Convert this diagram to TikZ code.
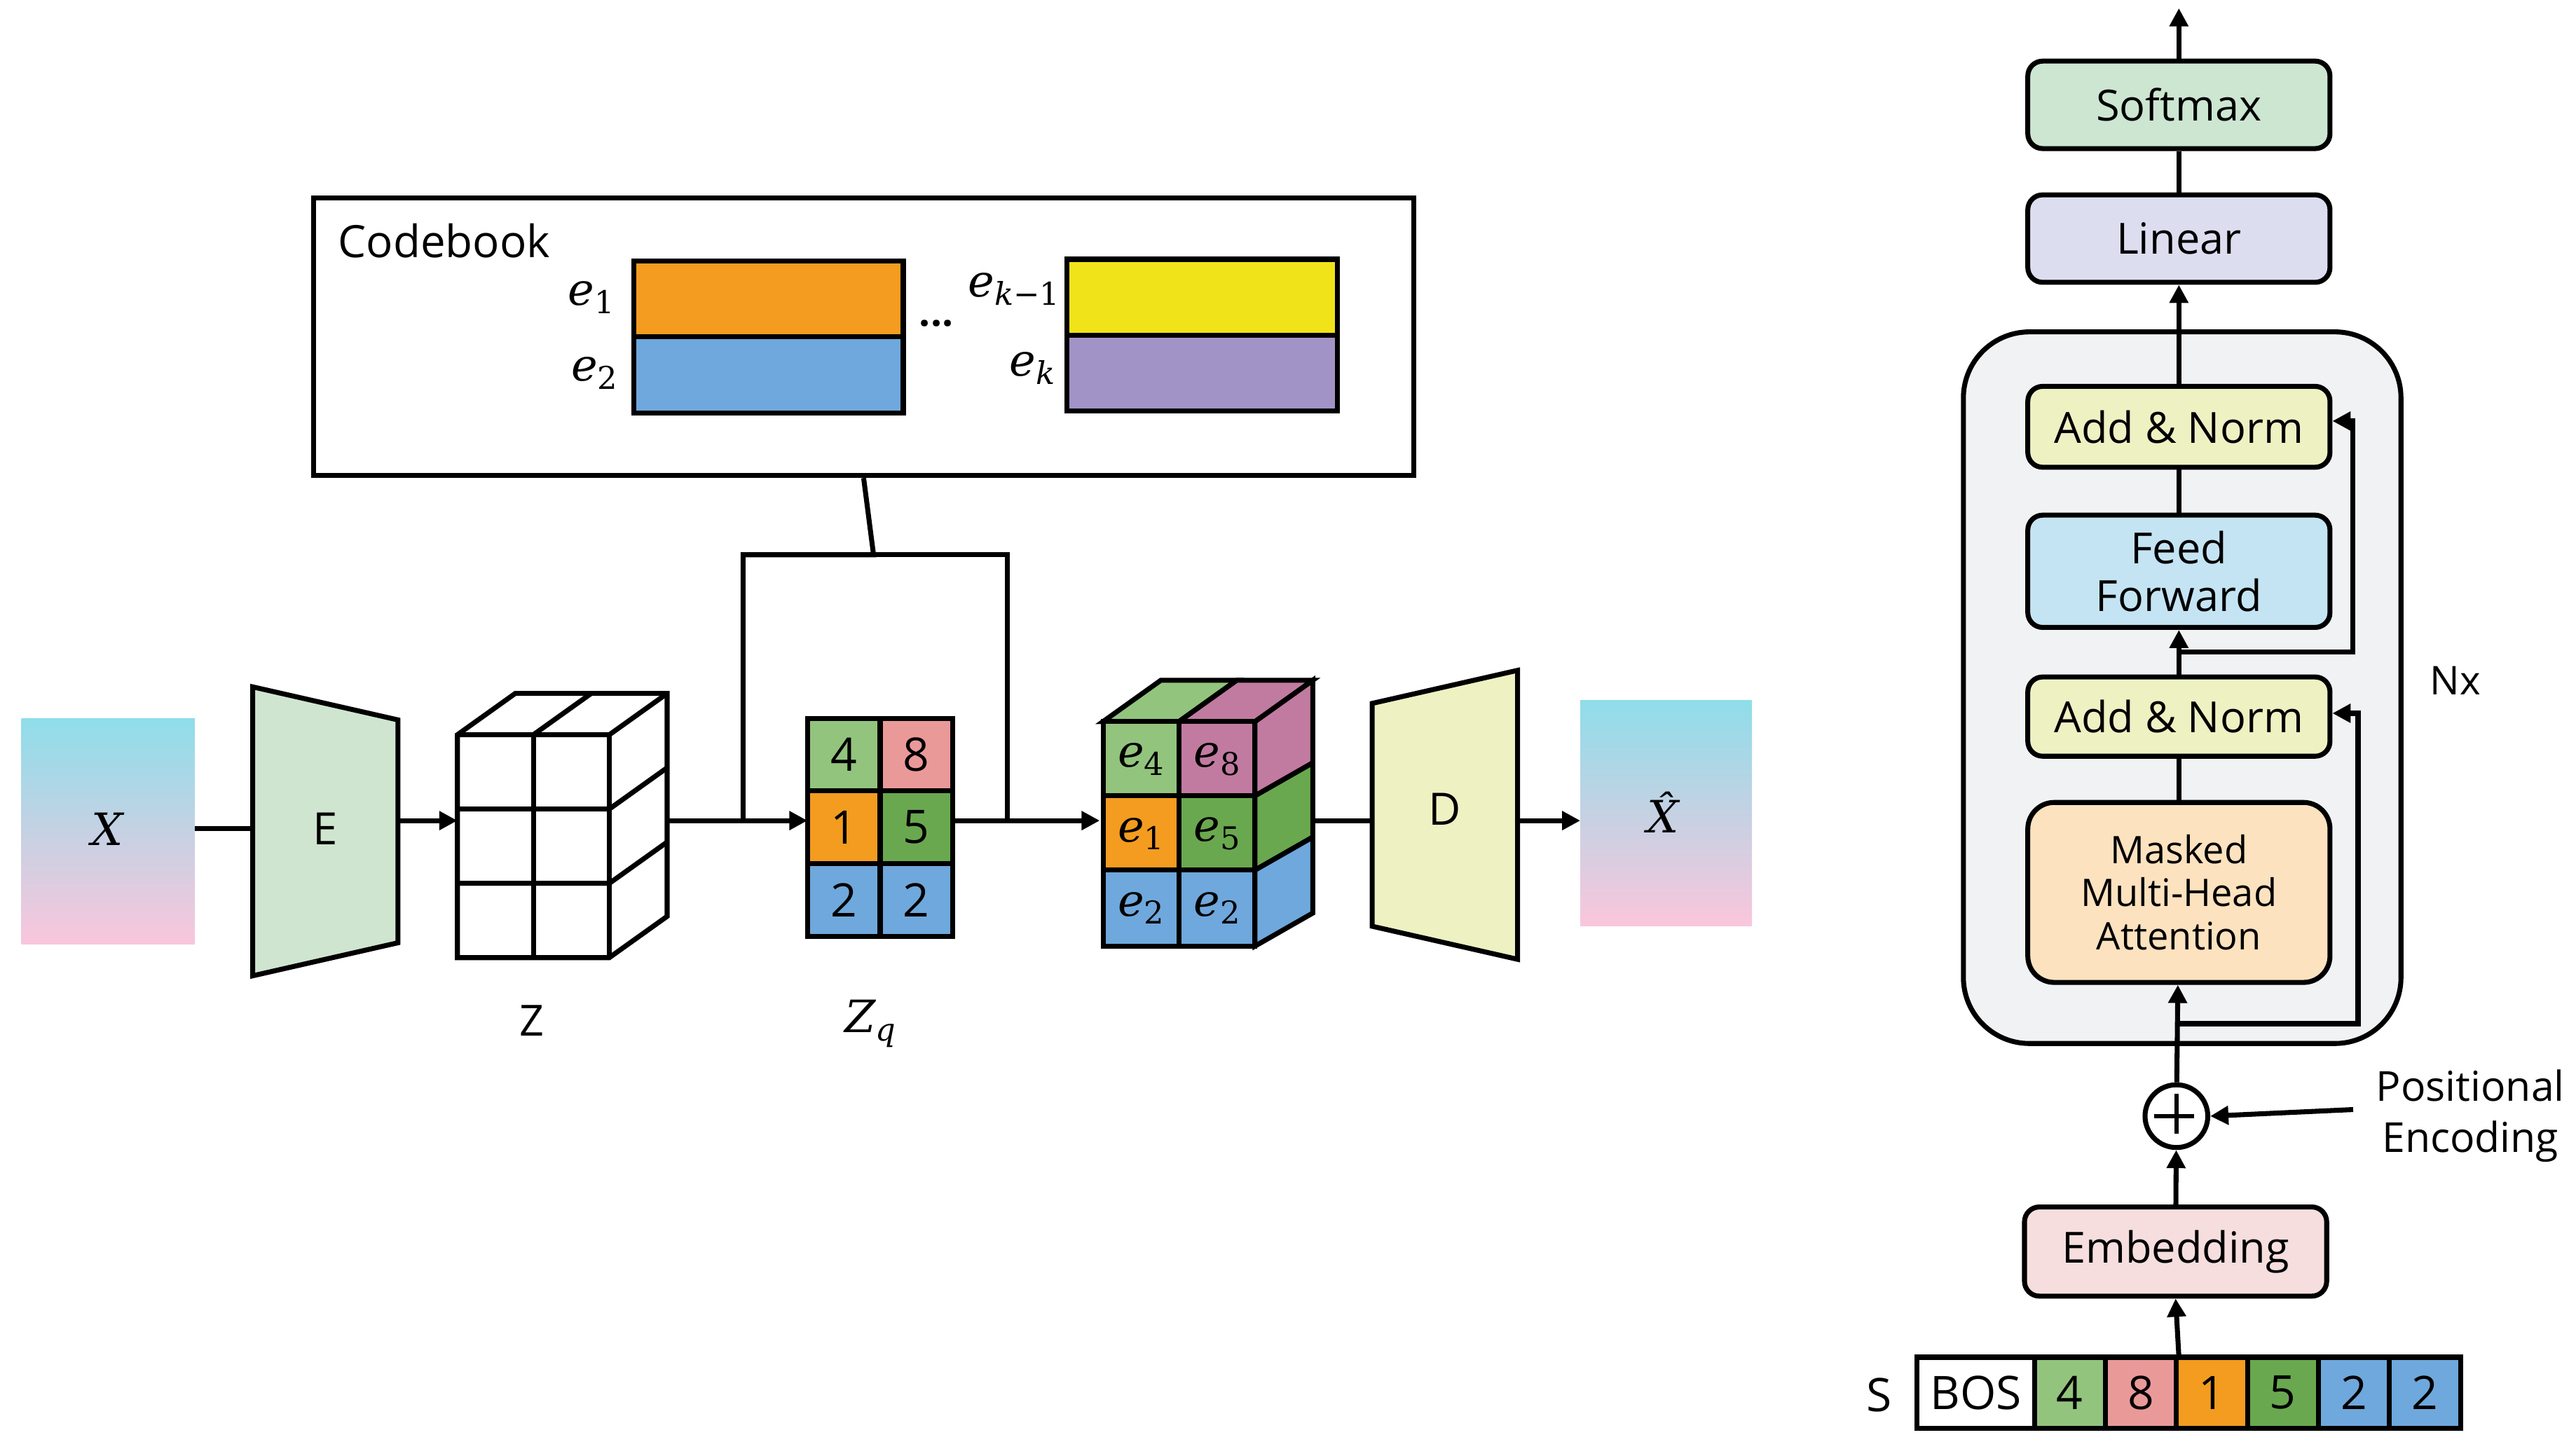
\documentclass[tikz,border=0pt]{standalone}
\usepackage{fontspec}
\setmainfont{Open Sans}
\newfontfamily\mf{DejaVu Serif}
\newcommand\ee[1]{{\mf\itshape e}\raisebox{-0.35ex}{\fontsize{19}{19}\selectfont\mf #1}}
\usetikzlibrary{arrows.meta,positioning,calc}
\definecolor{cg1}{HTML}{93C47D}\definecolor{cg2}{HTML}{6AA84F}
\definecolor{cpk}{HTML}{EA9999}\definecolor{cor}{HTML}{F39C1F}
\definecolor{cbl}{HTML}{6FA8DC}\definecolor{cmg}{HTML}{C27BA0}
\definecolor{cyl}{HTML}{F0E31A}\definecolor{cpu}{HTML}{A293C6}
\definecolor{gtop}{HTML}{8FDDEA}\definecolor{gmid}{HTML}{E8D8E8}\definecolor{gbot}{HTML}{FAC6DC}
\definecolor{cenc}{HTML}{CFE5CF}\definecolor{cdec}{HTML}{EEF1C2}
\definecolor{csoft}{HTML}{CCE6D2}\definecolor{clin}{HTML}{DCDEF0}
\definecolor{cff}{HTML}{C4E4F3}\definecolor{cmha}{HTML}{FDE2BF}
\definecolor{cemb}{HTML}{F6DEDE}\definecolor{cout}{HTML}{F1F2F4}
\begin{document}
\begin{tikzpicture}[x=1pt,y=-1pt,line width=3pt,line join=miter,
  arr/.style={-{Triangle[length=11pt,width=11pt]}},
  blk/.style={draw,rounded corners=9pt,minimum width=183pt,font=\fontsize{26}{29}\selectfont,align=center,inner sep=0pt},
  cell/.style={draw,minimum width=44pt,minimum height=44pt,inner sep=0pt,font=\fontsize{28}{28}\selectfont},
  tok/.style={draw,minimum width=43pt,minimum height=43pt,inner sep=0pt,font=\fontsize{28}{28}\selectfont},
  ml/.style={font=\fontsize{27}{27}\selectfont}]
\useasboundingbox (0,0) rectangle (1560,873);
% X input
\shade[top color=gtop, middle color=gmid, bottom color=gbot] (13,435) rectangle (118,572);
\node[ml] (X) at (65,502) {{\mf\itshape X}};
\coordinate (Xr) at (118,502);
% Encoder
\draw[fill=cenc] (153,416) -- (241,436) -- (241,571) -- (153,591) -- cycle;
\node[ml] (E) at (197,502) {E};
\coordinate (El) at (153,502); \coordinate (Er) at (241,497);
\draw (Xr) -- (El);
% Z cube
\draw[fill=white] (277,445) -- (312,420) -- (404,420) -- (404,555) -- (369,580) -- (277,580) -- cycle;
\draw (277,445) -- (369,445) -- (404,420);
\draw (369,445) -- (369,580);
\draw (323,445) -- (323,580);
\draw (277,490) -- (369,490) -- (404,465);
\draw (277,535) -- (369,535) -- (404,510);
\draw (323,445) -- (358,420);
\coordinate (Zl) at (277,497); \coordinate (Zr) at (404,497);
\draw[arr] (Er) -- (Zl);
\node[font=\fontsize{26}{26}\selectfont] (Zlab) at (322,618) {Z};
% Zq grid
\node[cell,fill=cg1] (q4) at (511,457) {4};
\node[cell,fill=cpk] (q8) at (555,457) {8};
\node[cell,fill=cor] (q1) at (511,501) {1};
\node[cell,fill=cg2] (q5) at (555,501) {5};
\node[cell,fill=cbl] (q2a) at (511,545) {2};
\node[cell,fill=cbl] (q2b) at (555,545) {2};
\node[ml] (Zq) at (527,620) {{\mf\itshape Z}\raisebox{-0.35ex}{\fontsize{19}{19}\selectfont\mf\itshape q}};
\coordinate (Qi) at (489,497); \coordinate (Qo) at (577,497);
\draw[arr] (Zr) -- (Qi);
% second cube
\draw[fill=cmg] (760,437) -- (795,412) -- (795,462) -- (760,482) -- cycle;
\draw[fill=cg2] (760,482) -- (795,462) -- (795,507) -- (760,527) -- cycle;
\draw[fill=cbl] (760,527) -- (795,507) -- (795,553) -- (760,573) -- cycle;
\draw[fill=cg1] (668,437) -- (703,412) -- (749,412) -- (714,437) -- cycle;
\draw[fill=cmg] (714,437) -- (749,412) -- (795,412) -- (760,437) -- cycle;
\node[draw,fill=cg1,minimum size=46pt,inner sep=0pt,ml] (c4) at (691,460) {\ee{4}};
\node[draw,fill=cmg,minimum size=46pt,inner sep=0pt,ml] (c8) at (737,460) {\ee{8}};
\node[draw,fill=cor,minimum size=46pt,inner sep=0pt,ml] (c1) at (691,505) {\ee{1}};
\node[draw,fill=cg2,minimum size=46pt,inner sep=0pt,ml] (c5) at (737,505) {\ee{5}};
\node[draw,fill=cbl,minimum size=46pt,inner sep=0pt,ml] (c2a) at (691,550) {\ee{2}};
\node[draw,fill=cbl,minimum size=46pt,inner sep=0pt,ml] (c2b) at (737,550) {\ee{2}};
\coordinate (Ci) at (666,497); \coordinate (Co) at (795,497);
\draw[arr] (Qo) -- (Ci);
% Decoder
\draw[fill=cdec] (831,426) -- (919,406) -- (919,581) -- (831,561) -- cycle;
\node[ml] (D) at (875,490) {D};
\coordinate (Dl) at (831,497); \coordinate (Dr) at (919,497);
\draw (Co) -- (Dl);
% Xhat
\shade[top color=gtop, middle color=gmid, bottom color=gbot] (957,424) rectangle (1061,561);
\node[ml] (Xh) at (1007,492) {{\mf\itshape X̂}};
\coordinate (Xhl) at (957,497);
\draw[arr] (Dr) -- (Xhl);
% Codebook
\node[draw,minimum width=666pt,minimum height=168pt,inner sep=0pt] (cb) at (523,204) {};
\node[anchor=west,font=\fontsize{27}{29}\selectfont] (cbt) at (200,146) {Codebook};
\node[draw,fill=cor,minimum width=163pt,minimum height=46pt,inner sep=0pt] (e1) at (465.5,181) {};
\node[draw,fill=cbl,minimum width=163pt,minimum height=46pt,inner sep=0pt] (e2) at (465.5,227) {};
\node[draw,fill=cyl,minimum width=164pt,minimum height=46pt,inner sep=0pt] (ek1) at (728,180) {};
\node[draw,fill=cpu,minimum width=164pt,minimum height=46pt,inner sep=0pt] (ek) at (728,226) {};
\node[ml] (l1) at (358,180) {\ee{1}};
\node[ml] (l2) at (360,226) {\ee{2}};
\node[ml] (lk1) at (614,175) {\ee{\itshape k\upshape −1}};
\node[ml] (lk) at (625,223) {\ee{\itshape k}};
\node[font=\fontsize{24}{24}\selectfont] (dots) at (567,196) {\textbf{...}};
\coordinate (b1) at (450,497); \coordinate (b2) at (610,497);
\draw (cb.south) -- (529,336) -- (450,336) -- (b1);
\draw (529,336) -- (610,336) -- (b2);
% Transformer
\node[draw,rounded corners=40pt,fill=cout,minimum width=265pt,minimum height=431pt] (outer) at (1321.5,416.5) {};
\node[blk,fill=csoft,minimum height=53pt] (soft) at (1319.5,63.5) {Softmax};
\node[blk,fill=clin,minimum height=53pt] (lin) at (1319.5,144.5) {Linear};
\node[blk,fill=cdec,minimum height=49pt] (an1) at (1319.5,258.5) {Add \& Norm};
\node[blk,fill=cff,minimum height=68pt] (ff) at (1319.5,346) {Feed\\Forward};
\node[blk,fill=cdec,minimum height=48pt] (an2) at (1319.5,434) {Add \& Norm};
\node[blk,rounded corners=16pt,fill=cmha,minimum height=109pt,font=\fontsize{23}{26}\selectfont] (mha) at (1319.5,540.5) {Masked\\Multi-Head\\Attention};
\coordinate (top) at (1319.5,5);
\draw[arr] (soft) -- (top);
\draw (lin) -- (soft);
\draw[arr] (outer.north -| lin.south) -- (lin.south);
\draw (an1) -- (outer.north -| an1.north);
\draw (ff) -- (an1);
\draw[arr] (an2) -- (ff);
\draw (mha) -- (an2);
\coordinate (r1) at (1319.5,395);
\draw[arr] (r1) -- (1425,395) -- (1425,255) -- (an1.east |- 0,255);
\coordinate (r2) at (1319.5,620);
\draw[arr] (r2) -- (1428,620) -- (1428,432) -- (an2.east |- 0,432);
\node[font=\fontsize{24}{24}\selectfont] (nx) at (1487,412) {Nx};
\node[draw,circle,minimum size=38pt,inner sep=0pt] (plus) at (1318,676) {};
\draw[line width=2.5pt] (plus.north) ++(0,7) -- ++(0,24) (plus.west) ++(7,0) -- ++(24,0);
\draw[arr] (plus) -- (mha);
\node[align=center,font=\fontsize{25}{31}\selectfont] (pe) at (1496,676) {Positional\\Encoding};
\coordinate (pel) at (1425,672);
\draw[arr] (pel) -- (plus.east);
\node[blk,fill=cemb,minimum height=54pt] (emb) at (1317.5,758) {Embedding};
\draw[arr] (emb) -- (plus);
% tokens
\node[tok,fill=white,minimum width=71pt] (bos) at (1196.5,843.5) {BOS};
\node[tok,fill=cg1] (t4) at (1253.5,843.5) {4};
\node[tok,fill=cpk] (t8) at (1296.5,843.5) {8};
\node[tok,fill=cor] (t1) at (1339.5,843.5) {1};
\node[tok,fill=cg2] (t5) at (1382.5,843.5) {5};
\node[tok,fill=cbl] (t2a) at (1425.5,843.5) {2};
\node[tok,fill=cbl] (t2b) at (1468.5,843.5) {2};
\node[font=\fontsize{28}{28}\selectfont] (S) at (1138,845) {S};
\draw[arr] (1319.5,822) -- (emb.south);
\end{tikzpicture}
\end{document}
